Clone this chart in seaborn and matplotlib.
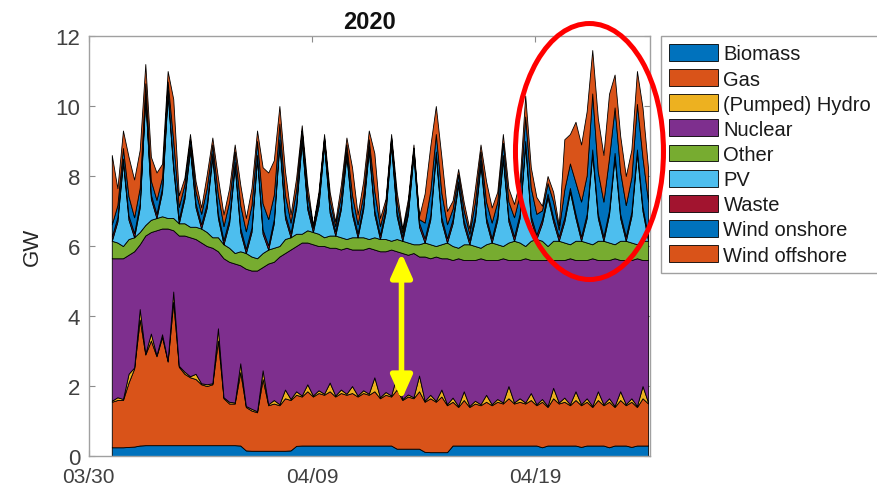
import numpy as np
import pandas as pd
import matplotlib
matplotlib.use("Agg")
import matplotlib.pyplot as plt
import matplotlib.dates as mdates
from matplotlib.patches import Ellipse
import seaborn as sns

# Generation by source in GW, sampled every 6 hours (01h, 07h, 13h, 19h)
start = "2020-03-31 01:00"
step = "6h"

biomass = [
    0.25, 0.25, 0.25, 0.26,
    0.27, 0.30, 0.31, 0.31,
    0.31, 0.31, 0.31, 0.31,
    0.31, 0.31, 0.31, 0.31,
    0.31, 0.31, 0.31, 0.31,
    0.31, 0.31, 0.31, 0.30,
    0.16, 0.15, 0.15, 0.15,
    0.15, 0.15, 0.15, 0.15,
    0.16, 0.29, 0.30, 0.30,
    0.30, 0.30, 0.30, 0.30,
    0.30, 0.30, 0.30, 0.30,
    0.30, 0.30, 0.30, 0.30,
    0.30, 0.30, 0.30, 0.21,
    0.21, 0.21, 0.21, 0.21,
    0.12, 0.11, 0.11, 0.11,
    0.11, 0.30, 0.30, 0.30,
    0.30, 0.30, 0.30, 0.30,
    0.30, 0.30, 0.30, 0.30,
    0.30, 0.30, 0.30, 0.30,
    0.30, 0.25, 0.30, 0.30,
    0.30, 0.30, 0.30, 0.30,
    0.26, 0.30, 0.30, 0.30,
    0.30, 0.25, 0.30, 0.30,
    0.30, 0.26, 0.30, 0.30,
    0.30,
]

gas = [
    1.30, 1.35, 1.35, 1.84,
    2.23, 3.60, 2.59, 2.99,
    2.54, 3.09, 2.39, 4.09,
    2.24, 2.04, 1.94, 1.89,
    1.74, 1.69, 1.74, 2.99,
    1.34, 1.19, 1.19, 2.10,
    1.24, 1.15, 1.10, 2.05,
    1.30, 1.35, 1.30, 1.50,
    1.44, 1.46, 1.40, 1.55,
    1.40, 1.50, 1.45, 1.55,
    1.40, 1.50, 1.45, 1.50,
    1.40, 1.50, 1.45, 1.55,
    1.35, 1.45, 1.40, 1.69,
    1.39, 1.49, 1.44, 1.64,
    1.43, 1.54, 1.44, 1.59,
    1.34, 1.25, 1.10, 1.30,
    1.10, 1.20, 1.15, 1.25,
    1.15, 1.25, 1.20, 1.35,
    1.20, 1.25, 1.20, 1.30,
    1.15, 1.30, 1.10, 1.35,
    1.20, 1.25, 1.15, 1.30,
    1.19, 1.25, 1.10, 1.30,
    1.15, 1.30, 1.10, 1.30,
    1.15, 1.29, 1.10, 1.35,
    1.20,
]

hydro = [
    0.03, 0.08, 0.03, 0.25,
    0.03, 0.30, 0.03, 0.20,
    0.03, 0.08, 0.03, 0.30,
    0.03, 0.06, 0.03, 0.15,
    0.03, 0.05, 0.03, 0.35,
    0.03, 0.05, 0.03, 0.25,
    0.03, 0.05, 0.03, 0.25,
    0.03, 0.10, 0.03, 0.25,
    0.03, 0.10, 0.03, 0.20,
    0.03, 0.08, 0.03, 0.25,
    0.03, 0.10, 0.03, 0.20,
    0.03, 0.08, 0.03, 0.40,
    0.03, 0.08, 0.03, 0.40,
    0.03, 0.06, 0.03, 0.45,
    0.03, 0.10, 0.03, 0.20,
    0.03, 0.12, 0.03, 0.25,
    0.03, 0.08, 0.03, 0.20,
    0.03, 0.08, 0.03, 0.35,
    0.03, 0.10, 0.03, 0.20,
    0.03, 0.08, 0.03, 0.30,
    0.03, 0.12, 0.03, 0.25,
    0.03, 0.10, 0.03, 0.25,
    0.03, 0.10, 0.03, 0.25,
    0.03, 0.10, 0.03, 0.35,
    0.03,
]

nuclear = [
    4.07, 3.97, 4.02, 3.40,
    3.32, 1.85, 3.37, 2.90,
    3.57, 3.02, 3.77, 1.75,
    3.72, 3.89, 3.97, 3.85,
    4.02, 3.95, 3.87, 2.20,
    3.97, 4.00, 3.97, 2.80,
    3.92, 3.95, 4.02, 2.95,
    4.02, 3.95, 4.22, 3.90,
    4.27, 4.15, 4.37, 4.05,
    4.32, 4.12, 4.22, 3.85,
    4.22, 4.00, 4.17, 3.90,
    4.17, 4.02, 4.17, 3.65,
    4.17, 4.02, 4.17, 3.55,
    4.17, 3.99, 4.12, 3.40,
    4.12, 3.90, 4.12, 3.75,
    4.17, 3.93, 4.22, 3.75,
    4.17, 4.02, 4.17, 3.85,
    4.12, 3.97, 4.12, 3.60,
    4.07, 3.95, 4.12, 3.80,
    4.12, 3.97, 4.17, 3.65,
    4.07, 3.93, 4.17, 3.75,
    4.12, 3.95, 4.22, 3.75,
    4.12, 3.95, 4.22, 3.75,
    4.12, 3.95, 4.22, 3.60,
    4.07,
]

other = [
    0.50, 0.45, 0.35, 0.45,
    0.40, 0.35, 0.30, 0.35,
    0.35, 0.35, 0.30, 0.35,
    0.35, 0.35, 0.30, 0.35,
    0.40, 0.40, 0.30, 0.40,
    0.40, 0.40, 0.30, 0.40,
    0.45, 0.40, 0.35, 0.40,
    0.40, 0.40, 0.30, 0.40,
    0.35, 0.35, 0.25, 0.35,
    0.35, 0.35, 0.25, 0.35,
    0.35, 0.35, 0.25, 0.35,
    0.35, 0.35, 0.25, 0.35,
    0.35, 0.35, 0.25, 0.35,
    0.35, 0.35, 0.25, 0.35,
    0.40, 0.40, 0.30, 0.40,
    0.45, 0.40, 0.30, 0.45,
    0.45, 0.40, 0.30, 0.45,
    0.50, 0.45, 0.35, 0.50,
    0.55, 0.50, 0.35, 0.55,
    0.60, 0.55, 0.40, 0.55,
    0.55, 0.50, 0.40, 0.55,
    0.55, 0.50, 0.40, 0.55,
    0.55, 0.50, 0.40, 0.55,
    0.55, 0.50, 0.40, 0.55,
    0.55,
]

pv = [
    0.00, 0.60, 2.39, 0.55,
    0.00, 0.70, 3.64, 0.60,
    0.00, 0.70, 3.54, 1.40,
    0.00, 0.70, 2.19, 0.55,
    0.00, 0.70, 2.29, 0.55,
    0.00, 0.70, 2.49, 0.55,
    0.00, 0.70, 2.84, 0.55,
    0.00, 0.70, 2.94, 0.60,
    0.00, 0.75, 2.64, 0.60,
    0.00, 0.80, 2.64, 0.65,
    0.00, 0.80, 2.39, 0.65,
    0.00, 0.80, 2.54, 0.65,
    0.00, 0.75, 2.74, 0.65,
    0.00, 0.80, 2.54, 0.50,
    0.00, 0.70, 2.59, 0.65,
    0.00, 0.65, 1.79, 0.55,
    0.00, 0.75, 2.39, 0.65,
    0.00, 0.70, 2.49, 0.60,
    0.00, 0.70, 2.89, 0.60,
    0.00, 0.50, 1.39, 0.55,
    0.00, 0.60, 1.50, 0.65,
    0.00, 0.70, 2.60, 0.65,
    0.00, 0.80, 2.50, 0.65,
    0.00, 0.75, 2.60, 0.85,
    0.00,
]

waste = [
    0.12, 0.12, 0.11, 0.12,
    0.12, 0.12, 0.11, 0.12,
    0.12, 0.12, 0.11, 0.12,
    0.12, 0.12, 0.11, 0.12,
    0.12, 0.12, 0.11, 0.12,
    0.12, 0.12, 0.11, 0.12,
    0.12, 0.12, 0.11, 0.12,
    0.12, 0.12, 0.11, 0.12,
    0.12, 0.12, 0.11, 0.12,
    0.12, 0.12, 0.11, 0.12,
    0.12, 0.12, 0.11, 0.12,
    0.12, 0.12, 0.11, 0.12,
    0.12, 0.12, 0.11, 0.12,
    0.12, 0.12, 0.11, 0.12,
    0.12, 0.12, 0.11, 0.12,
    0.12, 0.12, 0.11, 0.12,
    0.12, 0.12, 0.11, 0.12,
    0.12, 0.12, 0.11, 0.12,
    0.12, 0.12, 0.11, 0.12,
    0.12, 0.12, 0.11, 0.12,
    0.12, 0.12, 0.11, 0.12,
    0.12, 0.12, 0.11, 0.12,
    0.12, 0.12, 0.11, 0.12,
    0.12, 0.12, 0.11, 0.12,
    0.12,
]

wind_onshore = [
    0.35, 0.35, 0.30, 0.55,
    0.45, 0.45, 0.30, 0.40,
    0.40, 0.30, 0.25, 0.70,
    0.35, 0.30, 0.20, 0.35,
    0.30, 0.45, 0.25, 0.55,
    0.40, 0.50, 0.30, 0.65,
    0.50, 0.65, 0.40, 0.75,
    0.75, 0.70, 0.45, 0.55,
    0.30, 0.40, 0.20, 0.30,
    0.05, 0.15, 0.10, 0.25,
    0.15, 0.30, 0.20, 0.45,
    0.25, 0.30, 0.20, 0.55,
    0.25, 0.15, 0.10, 0.30,
    0.12, 0.18, 0.10, 0.10,
    0.45, 0.70, 0.50, 0.70,
    0.40, 0.30, 0.20, 0.30,
    0.18, 0.40, 0.25, 0.45,
    0.45, 0.40, 0.35, 0.45,
    0.55, 0.55, 0.70, 0.80,
    0.60, 0.25, 0.30, 0.45,
    0.20, 0.80, 0.70, 0.90,
    1.00, 1.10, 1.60, 1.20,
    1.00, 1.50, 1.30, 1.20,
    0.90, 1.00, 1.30, 1.40,
    1.00,
]

wind_offshore = [
    1.98, 0.48, 0.50, 1.13,
    1.08, 1.08, 0.55, 0.68,
    0.78, 0.38, 0.30, 1.18,
    0.33, 0.18, 0.15, 0.28,
    0.18, 0.38, 0.20, 0.48,
    0.33, 0.38, 0.20, 0.58,
    0.38, 0.48, 0.30, 1.03,
    1.33, 0.98, 0.50, 0.68,
    0.23, 0.33, 0.15, 0.28,
    0.03, 0.13, 0.10, 0.23,
    0.13, 0.28, 0.20, 0.78,
    0.28, 0.38, 0.25, 1.08,
    0.23, 0.13, 0.10, 0.28,
    0.11, 0.15, 0.10, 0.08,
    0.83, 1.28, 0.80, 1.03,
    0.38, 0.23, 0.15, 0.23,
    0.15, 0.38, 0.20, 0.58,
    0.43, 0.28, 0.25, 0.38,
    0.38, 0.38, 0.60, 0.58,
    0.48, 0.13, 0.20, 0.28,
    0.13, 1.43, 0.84, 1.73,
    1.63, 1.83, 1.24, 1.53,
    1.33, 1.83, 0.94, 1.03,
    0.83, 0.78, 0.94, 1.43,
    0.93,
]

sources = ["Biomass", "Gas", "(Pumped) Hydro", "Nuclear", "Other", "PV",
           "Waste", "Wind onshore", "Wind offshore"]
colors = ["#0072BD", "#D95319", "#EDB120", "#7E2F8E", "#77AC30", "#4DBEEE",
          "#A2142F", "#0072BD", "#D95319"]
tick_dates = ["2020-03-30", "2020-04-09", "2020-04-19"]

times = pd.date_range(start, periods=len(biomass), freq=step)
df = pd.DataFrame(
    dict(zip(sources, [biomass, gas, hydro, nuclear, other, pv, waste,
                       wind_onshore, wind_offshore])),
    index=times,
)

sns.set_theme(style="white")
plt.rcParams["font.family"] = ["Liberation Sans", "DejaVu Sans"]

fig = plt.figure(figsize=(8.78, 4.89), dpi=100)
ax = fig.add_axes([0.1008, 0.0654, 0.6395, 0.8589])

polys = ax.stackplot(df.index.to_pydatetime(), df.T.values, colors=colors,
                     labels=sources, edgecolor="black", linewidth=0.6)

ax.set_xlim(pd.Timestamp("2020-03-30"), pd.Timestamp("2020-04-24 03:00"))
ax.set_ylim(0, 12)
ax.set_xticks(pd.to_datetime(tick_dates))
ax.xaxis.set_major_formatter(mdates.DateFormatter("%m/%d"))
ax.set_yticks(np.arange(0, 13, 2))
ax.tick_params(direction="in", length=4, width=0.8, color="#8c8c8c",
               top=True, right=True, bottom=True, left=True,
               labelsize=16, labelcolor="#404040")
ax.tick_params(axis="x", pad=8, labelsize=15)
ax.tick_params(axis="y", pad=6)
for s in ax.spines.values():
    s.set_color("#a0a0a0")
    s.set_linewidth(1.0)

ax.set_title("2020", fontsize=17, fontweight="bold", pad=6, color="#111111")
ax.set_ylabel("GW", fontsize=16, labelpad=9, color="#262626")

leg = fig.legend(polys, sources, loc="upper left",
                 bbox_to_anchor=(661 / 878, 1 - 37 / 489),
                 bbox_transform=fig.transFigure, borderaxespad=0,
                 fontsize=14.5, frameon=True, fancybox=False,
                 edgecolor="#a0a0a0", framealpha=1,
                 handlelength=2.45, handleheight=0.9, handletextpad=0.25,
                 labelspacing=0.29, borderpad=0.4)
leg.get_frame().set_linewidth(1.0)
for t in leg.get_texts():
    t.set_color("#1a1a1a")

# highlight of the windy last week
ring = Ellipse((0.6714, 0.6881), 0.1686, 0.5235, transform=fig.transFigure,
               fill=False, edgecolor="#FF0000", linewidth=3.6, zorder=10)
fig.add_artist(ring)

# span of the nuclear block
ax.annotate("", xy=(401.5, 489 - 254), xytext=(401.5, 489 - 401),
            xycoords="figure pixels", textcoords="figure pixels",
            annotation_clip=False,
            arrowprops=dict(arrowstyle="<|-|>,head_length=0.9,head_width=0.4",
                            mutation_scale=16, lw=4.0, color="#FFFF00",
                            shrinkA=0, shrinkB=0))

fig.savefig("out.png", dpi=100)
